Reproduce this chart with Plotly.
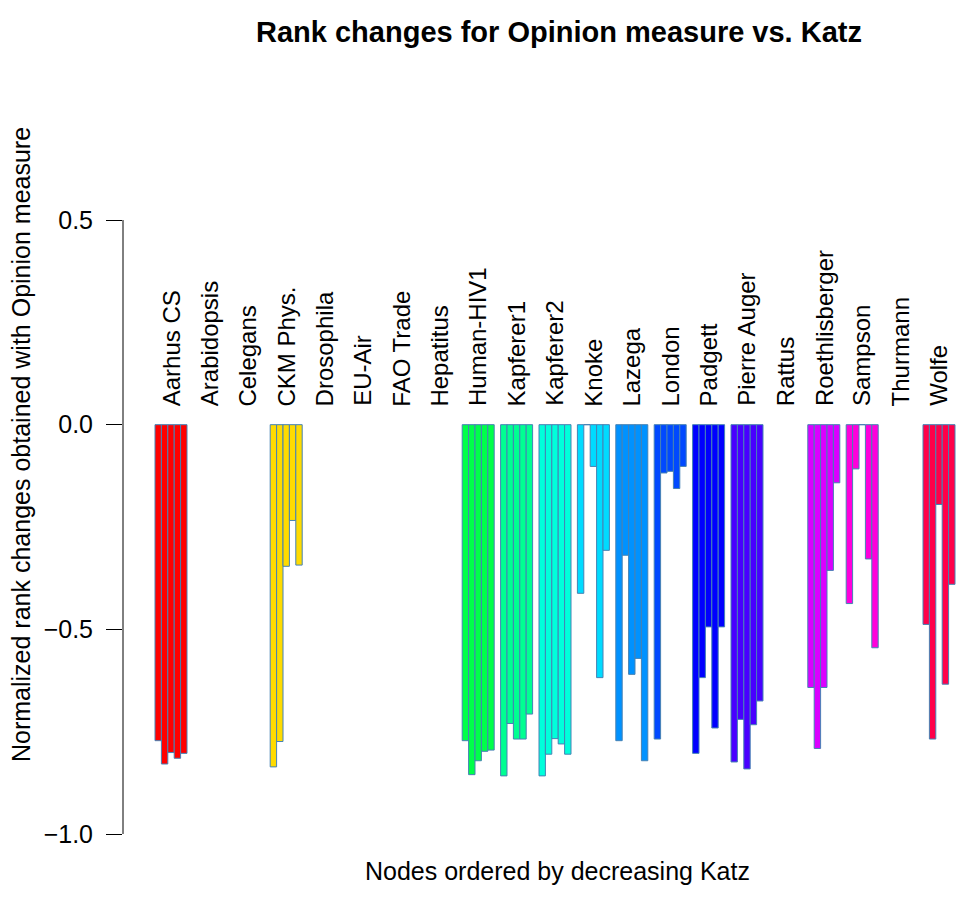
import plotly.graph_objects as go

# ---- data -------------------------------------------------------------
networks = ["Aarhus CS", "Arabidopsis", "Celegans", "CKM Phys.", "Drosophila",
            "EU-Air", "FAO Trade", "Hepatitus", "Human-HIV1", "Kapferer1",
            "Kapferer2", "Knoke", "Lazega", "London", "Padgett", "Pierre Auger",
            "Rattus", "Roethlisberger", "Sampson", "Thurmann", "Wolfe"]

aarhus_cs      = [-0.772, -0.829, -0.801, -0.815, -0.803]
arabidopsis    = [None, None, None, None, None]
celegans       = [None, None, None, None, None]
ckm_phys       = [-0.836, -0.774, -0.346, -0.234, -0.343]
drosophila     = [None, None, None, None, None]
eu_air         = [None, None, None, None, None]
fao_trade      = [None, None, None, None, None]
hepatitus      = [None, None, None, None, None]
human_hiv1     = [-0.772, -0.855, -0.821, -0.798, -0.795]
kapferer1      = [-0.858, -0.730, -0.768, -0.768, -0.707]
kapferer2      = [-0.858, -0.805, -0.767, -0.780, -0.805]
knoke          = [-0.412, 0.0, -0.102, -0.618, -0.307]
lazega         = [-0.772, -0.319, -0.610, -0.571, -0.821]
london         = [-0.768, -0.118, -0.114, -0.156, -0.102]
padgett        = [-0.803, -0.618, -0.494, -0.741, -0.494]
pierre_auger   = [-0.824, -0.720, -0.841, -0.733, -0.675]
rattus         = [None, None, None, None, None]
roethlisberger = [-0.642, -0.791, -0.642, -0.356, -0.142]
sampson        = [-0.437, -0.108, 0.0, -0.328, -0.545]
thurmann       = [None, None, None, None, None]
wolfe          = [-0.488, -0.768, -0.195, -0.634, -0.390]

group_values = [aarhus_cs, arabidopsis, celegans, ckm_phys, drosophila, eu_air,
                fao_trade, hepatitus, human_hiv1, kapferer1, kapferer2, knoke,
                lazega, london, padgett, pierre_auger, rattus, roethlisberger,
                sampson, thurmann, wolfe]

colors = ["#FF0000", "#FF4900", "#FF9200", "#FFDB00", "#DBFF00", "#92FF00",
          "#49FF00", "#00FF00", "#00FF49", "#00FF92", "#00FFDB", "#00DBFF",
          "#0092FF", "#0049FF", "#0000FF", "#4900FF", "#9200FF", "#DB00FF",
          "#FF00DB", "#FF0092", "#FF0049"]

y_tick_vals = [0.5, 0.0, -0.5, -1.0]
y_tick_text = ["0.5", "0.0", "\u22120.5", "\u22121.0"]

title_text = "Rank changes for Opinion measure vs. Katz"
x_title = "Nodes ordered by decreasing Katz"
y_title = "Normalized rank changes obtained with Opinion measure"

# ---- figure -----------------------------------------------------------
FONT = "Liberation Sans, Arial, Helvetica, sans-serif"
W, H = 973, 902
ML, MR, MT, MB = 123, 0, 195, 42
bars_per_group = 5
group_step = bars_per_group + 1

fig = go.Figure()
for g, (name, vals, col) in enumerate(zip(networks, group_values, colors)):
    xs = [group_step * g + 1.5 + j for j in range(bars_per_group)]
    fig.add_trace(go.Bar(
        x=xs, y=vals, width=1.0, name=name,
        marker=dict(color=col, line=dict(color="#4682B4", width=1)),
        showlegend=False, hoverinfo="x+y"))

annotations = []
for g, name in enumerate(networks):
    annotations.append(dict(
        x=group_step * g + 1 + bars_per_group / 2, y=0.04, xref="x", yref="y",
        text=name, textangle=-90, showarrow=False,
        xanchor="center", yanchor="bottom",
        font=dict(family=FONT, size=24, color="black")))

plot_h = H - MT - MB
plot_w = W - ML - MR
annotations.append(dict(
    x=(557 - ML) / plot_w, y=(H - MB - 871) / plot_h, xref="paper", yref="paper",
    text=x_title, showarrow=False, xanchor="center", yanchor="middle",
    font=dict(family=FONT, size=25, color="black")))
annotations.append(dict(
    x=(21 - ML) / plot_w, y=(H - MB - 445) / plot_h, xref="paper", yref="paper",
    text=y_title, textangle=-90, showarrow=False, xanchor="center", yanchor="middle",
    font=dict(family=FONT, size=25, color="black")))

fig.update_layout(
    width=W, height=H,
    margin=dict(l=ML, r=MR, t=MT, b=MB, pad=0),
    paper_bgcolor="white", plot_bgcolor="white",
    barmode="overlay",
    title=dict(text="<b>" + title_text + "</b>", x=559 / W, xref="container",
               y=1 - 32 / H, yref="container", xanchor="center", yanchor="middle",
               font=dict(family=FONT, size=29, color="black")),
    xaxis=dict(range=[-4, -4 + plot_w / 6.4], showgrid=False, zeroline=False,
               showticklabels=False, ticks="", showline=False, fixedrange=True),
    yaxis=dict(range=[-1.0635, 0.5611], showgrid=False, zeroline=False,
               showline=False, tickvals=y_tick_vals, ticktext=y_tick_text,
               ticks="outside", ticklen=16, tickwidth=1, tickcolor="black",
               ticklabelstandoff=8,
               tickfont=dict(family=FONT, size=25, color="black")),
    annotations=annotations,
    shapes=[dict(type="line", xref="paper", yref="y", x0=0, x1=0,
                 y0=-1.0, y1=0.5, line=dict(color="black", width=1))],
)

fig.write_html("out.html")
